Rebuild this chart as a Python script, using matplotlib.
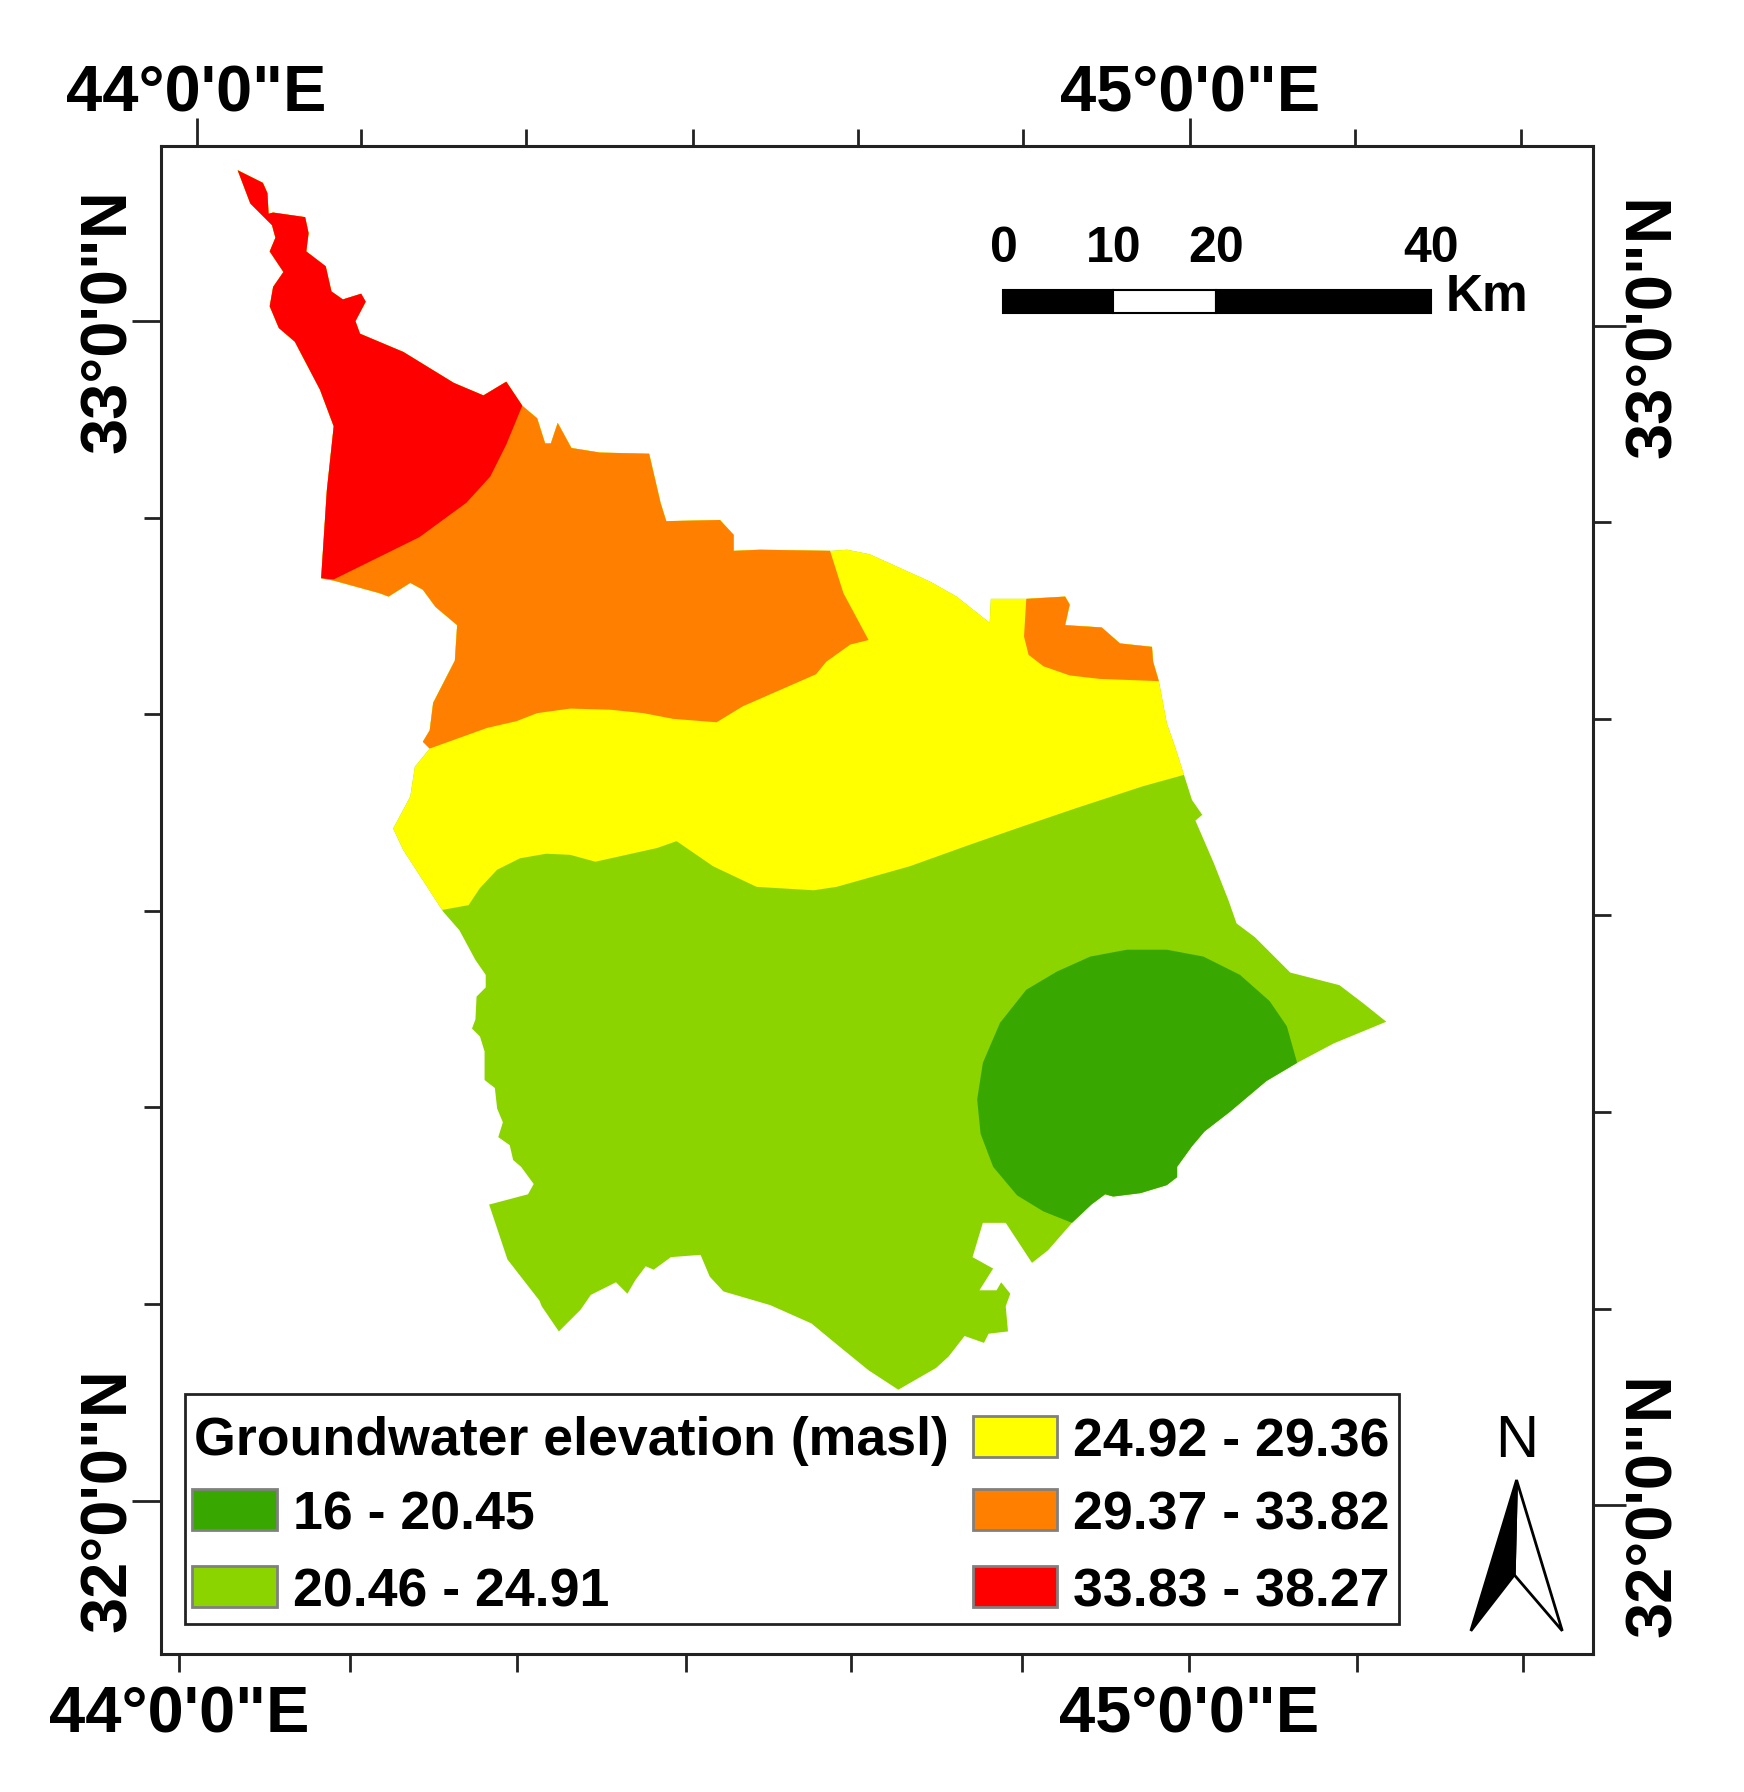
import matplotlib
matplotlib.use("Agg")
import matplotlib.pyplot as plt
from matplotlib.patches import Polygon, Rectangle

plt.rcParams["font.family"] = ["Liberation Sans", "DejaVu Sans"]

# graticule ticks, map units (the graticule is slightly tilted)
top_major = [172, 1041]
top_minor = [316, 460, 606, 751, 895, 1186, 1331]
bottom_major = [157, 1040]
bottom_minor = [306, 452, 600, 745, 894, 1187, 1333]
left_major = [281, 1313]
left_minor = [453, 625, 797, 969, 1141]
right_major = [285, 1317]
right_minor = [457, 629, 801, 973, 1145]
lon_labels = ["44°0'0\"E", "45°0'0\"E"]
lat_labels = ["33°0'0\"N", "32°0'0\"N"]

# study area outline
outline_x = [208, 230, 234, 235, 239, 267, 270, 268, 285, 290, 300, 316, 320, 311, 315, 353, 397, 423, 443, 457,
             470, 477, 482, 488, 500, 525, 568, 578, 583, 630, 642, 642, 665, 728, 741, 761, 814, 837, 866, 867,
             898, 932, 936, 932, 964, 980, 1008, 1009, 1014, 1021, 1028, 1036, 1043, 1052, 1046, 1062, 1075, 1082,
             1098, 1129, 1172, 1193, 1213, 1167, 1135, 1108, 1076, 1054, 1043, 1030, 1030, 1021, 998, 974, 967,
             955, 938, 917, 903, 880, 860, 851, 869, 857, 872, 876, 884, 880, 882, 865, 861, 844, 830, 819, 786,
             760, 733, 710, 674, 633, 621, 613, 587, 572, 565, 556, 549, 539, 517, 508, 489, 474, 472, 444, 428,
             462, 467, 456, 449, 446, 436, 440, 435, 433, 424, 424, 420, 413, 416, 417, 425, 425, 416, 402, 388,
             353, 344, 359, 363, 376, 370, 376, 379, 398, 400, 381, 370, 359, 340, 332, 292, 281, 286, 292, 280,
             258, 244, 236, 239, 248, 236, 241, 238, 219]
outline_y = [149, 160, 169, 187, 186, 190, 204, 220, 233, 255, 262, 257, 264, 281, 292, 308, 335, 346, 334, 355,
             366, 388, 388, 370, 392, 396, 397, 440, 456, 455, 468, 482, 481, 482, 481, 485, 509, 522, 545, 524,
             524, 522, 529, 547, 549, 563, 566, 579, 596, 633, 653, 678, 700, 713, 718, 755, 788, 808,
             820, 851, 862, 878, 894, 913, 930, 946, 973, 990, 1003, 1021, 1030, 1037, 1044, 1047, 1045,
             1054, 1070, 1094, 1105, 1070, 1070, 1100, 1110, 1129, 1129, 1122, 1132, 1143, 1165, 1167, 1175, 1169,
             1187, 1197, 1216, 1199, 1177, 1158, 1142, 1130, 1117, 1098, 1100, 1111, 1108, 1120, 1132, 1122, 1133,
             1146, 1165, 1143, 1138, 1102, 1054, 1045, 1036, 1021, 1015, 1002, 995, 982, 970, 952, 945, 920, 907,
             900, 892, 872, 864, 853, 840, 814, 798, 744, 725, 697, 671, 655, 649, 639, 615, 578, 547, 531, 516,
             510, 522, 519, 508, 506, 429, 373, 341, 299, 287, 268, 251, 238, 220, 208, 197, 178]

# zones, drawn over the base class and clipped to the outline
yellow_x = [388, 410, 420, 435, 455, 478, 499, 521, 548, 575, 592, 624, 662, 712, 732, 796, 849, 895, 942, 1000, 1036, 1300, 1300, 141, 141]
yellow_y = [796, 792, 777, 761, 751, 747, 748, 754, 748, 742, 736, 758, 776, 779, 776, 758, 739, 723, 707, 688, 678, 678, 128, 128, 796]
orange_x = [376, 426, 452, 470, 499, 534, 563, 589, 627, 650, 682, 714, 723, 744, 760, 738, 726, 726, 141, 141]
orange_y = [655, 637, 631, 624, 620, 621, 624, 629, 632, 618, 604, 590, 579, 564, 560, 519, 481, 128, 128, 655]
orange2_x = [898, 896, 900, 913, 936, 962, 1014, 1100, 1100, 898]
orange2_y = [524, 557, 573, 583, 591, 594, 596, 597, 500, 500]
red_x = [281, 292, 367, 408, 429, 443, 457, 480, 141, 141]
red_y = [506, 507, 470, 440, 417, 389, 355, 128, 128, 520]
dark_x = [938, 913, 890, 869, 858, 855, 860, 875, 898, 925, 954, 986, 1021, 1053, 1085, 1111, 1126, 1135, 1200, 1100]
dark_y = [1070, 1060, 1046, 1021, 992, 962, 930, 895, 866, 850, 837, 831, 831, 837, 853, 876, 898, 930, 1000, 1100]

# legend
class_labels = ["16 - 20.45", "20.46 - 24.91", "24.92 - 29.36", "29.37 - 33.82", "33.83 - 38.27"]
class_colors = ["#38a800", "#8cd400", "#ffff00", "#ff8000", "#ff0000"]
legend_x = [168, 168, 851, 851, 851]
legend_y = [1303, 1370, 1239, 1303, 1370]

# scale bar
scale_labels = ["0", "10", "20", "40"]
scale_pos = [878, 974, 1064, 1252]

fig = plt.figure(figsize=(17.44, 17.92), dpi=100)
ax = fig.add_axes([141 / 1526, 1 - 1447 / 1568, (1394 - 141) / 1526, (1447 - 128) / 1568])
ax.set_xlim(141, 1394)
ax.set_ylim(1447, 128)
for s in ax.spines.values():
    s.set_linewidth(2.2)
    s.set_color("#222222")

# -- map zones --------------------------------------------------------
outline = Polygon(list(zip(outline_x, outline_y)), closed=True, facecolor=class_colors[1], edgecolor="none", zorder=1)
ax.add_patch(outline)
zones = [
    (yellow_x, yellow_y, class_colors[2]),
    (orange_x, orange_y, class_colors[3]),
    (orange2_x, orange2_y, class_colors[3]),
    (red_x, red_y, class_colors[4]),
    (dark_x, dark_y, class_colors[0]),
]
for zx, zy, c in zones:
    p = Polygon(list(zip(zx, zy)), closed=True, facecolor=c, edgecolor="none", zorder=2)
    ax.add_patch(p)
    p.set_clip_path(outline)

# -- graticule --------------------------------------------------------
ax.set_xticks(bottom_major, lon_labels)
ax.set_xticks(bottom_minor, minor=True)
ax.set_yticks(left_major, lat_labels)
ax.set_yticks(left_minor, minor=True)
ax.tick_params(axis="x", which="both", length=13, width=2, color="#222222", pad=9.6)
ax.tick_params(axis="y", which="major", length=21, width=2, color="#222222", pad=-5)
ax.tick_params(axis="y", which="minor", length=12, width=2, color="#222222")

top = ax.secondary_xaxis("top")
top.set_xticks(top_major, lon_labels)
top.set_xticks(top_minor, minor=True)
top.tick_params(axis="x", which="major", length=20, width=2, color="#222222", pad=-4.5)
top.tick_params(axis="x", which="minor", length=12, width=2, color="#222222")
top.spines["top"].set_visible(False)

right = ax.secondary_yaxis("right")
right.set_yticks(right_major, lat_labels)
right.set_yticks(right_minor, minor=True)
right.tick_params(axis="y", which="major", length=24, width=2, color="#222222", pad=-2)
right.tick_params(axis="y", which="minor", length=13, width=2, color="#222222")
right.spines["right"].set_visible(False)

for lab in ax.get_xticklabels() + top.get_xticklabels():
    lab.set_fontsize(46.8)
    lab.set_fontweight("bold")
for lab in ax.get_yticklabels() + right.get_yticklabels():
    lab.set_fontsize(46.8)
    lab.set_fontweight("bold")
    lab.set_rotation(90)
    lab.set_va("center")

# -- scale bar --------------------------------------------------------
for i in range(3):
    ax.add_patch(Rectangle((scale_pos[i], 254), scale_pos[i + 1] - scale_pos[i], 20,
                           facecolor="white" if i == 1 else "black", edgecolor="black", linewidth=1.5, zorder=3))
for pos, lab in zip(scale_pos, scale_labels):
    ax.text(pos, 218, lab, ha="center", va="center", fontsize=36, fontweight="bold", zorder=4)
ax.text(1265, 260, "Km", ha="left", va="center", fontsize=37, fontweight="bold", zorder=4)

# -- legend -----------------------------------------------------------
ax.add_patch(Rectangle((162, 1220), 1062, 201, facecolor="white", edgecolor="#222222", linewidth=2, zorder=3))
ax.text(170, 1261, "Groundwater elevation (masl)", ha="left", va="center", fontsize=38.6, fontweight="bold", zorder=4)
for lx, ly, c, lab in zip(legend_x, legend_y, class_colors, class_labels):
    ax.add_patch(Rectangle((lx, ly), 74, 36, facecolor=c, edgecolor="#808080", linewidth=2, zorder=4))
    ax.text(lx + 88, ly + 23, lab, ha="left", va="center", fontsize=38.6, fontweight="bold", zorder=4)

# -- north arrow ------------------------------------------------------
ax.text(1327, 1261, "N", ha="center", va="center", fontsize=43, zorder=4)
ax.add_patch(Polygon([(1327, 1295), (1367, 1427), (1325, 1378)], closed=True, facecolor="white", edgecolor="black", linewidth=2, zorder=4))
ax.add_patch(Polygon([(1327, 1295), (1287, 1427), (1325, 1378)], closed=True, facecolor="black", edgecolor="black", linewidth=2, zorder=4))

plt.savefig("out.png", dpi=100)
plt.close()
